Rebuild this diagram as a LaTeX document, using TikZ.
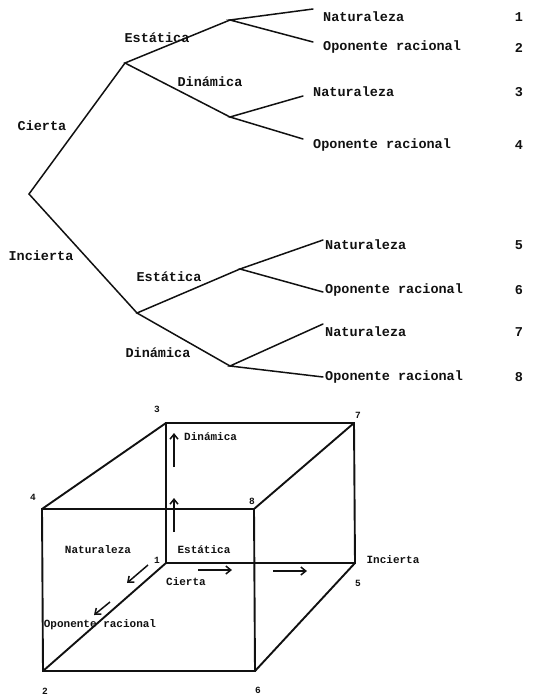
\documentclass[tikz,border=0pt]{standalone}
\usepackage{fontspec}
\setmonofont{Liberation Mono}
\usetikzlibrary{arrows.meta}
\definecolor{Ink}{HTML}{111111}

\begin{document}
\begin{tikzpicture}[x=1pt,y=-1pt,
  branch/.style={Ink,line width=1.5pt,line cap=round},
  edge/.style={Ink,line width=1.9pt,line join=miter},
  move/.style={-{Straight Barb[length=5pt,width=8pt]},Ink,line width=1.5pt},
  treetext/.style={font=\ttfamily\bfseries\fontsize{13.5}{14}\selectfont,text=Ink,inner sep=0pt},
  cubetext/.style={font=\ttfamily\bfseries\fontsize{11}{12}\selectfont,text=Ink,inner sep=0pt},
  corner/.style={font=\ttfamily\bfseries\fontsize{9.5}{10}\selectfont,text=Ink,inner sep=0pt}]
\useasboundingbox (0,0) rectangle (553,696);
% decision tree
\coordinate (root) at (29,194);
\coordinate (cie) at (125,63);
\coordinate (cieEst) at (230,20);
\coordinate (cieDin) at (230,117);
\coordinate (inc) at (137,313);
\coordinate (incEst) at (240,269);
\coordinate (incDin) at (230,366);
\coordinate (end1) at (313,9);
\coordinate (end2) at (313,42);
\coordinate (end3) at (303,96);
\coordinate (end4) at (303,139);
\coordinate (end5) at (323,240);
\coordinate (end6) at (323,292);
\coordinate (end7) at (323,324);
\coordinate (end8) at (323,377);
\draw[branch] (cie) -- (root) -- (inc);
\draw[branch] (cieEst) -- (cie) -- (cieDin);
\draw[branch] (incEst) -- (inc) -- (incDin);
\draw[branch] (end1) -- (cieEst) -- (end2);
\draw[branch] (end3) -- (cieDin) -- (end4);
\draw[branch] (end5) -- (incEst) -- (end6);
\draw[branch] (end7) -- (incDin) -- (end8);
\node[treetext] (tCie) at (42,126) {Cierta};
\node[treetext] (tInc) at (41,256) {Incierta};
\node[treetext] (tCieEst) at (157,38) {Estática};
\node[treetext] (tCieDin) at (210,82) {Dinámica};
\node[treetext] (tIncEst) at (169,277) {Estática};
\node[treetext] (tIncDin) at (158,353) {Dinámica};
\node[treetext,anchor=west] (leaf1) at (323,17) {Naturaleza};
\node[treetext,anchor=west] (leaf2) at (323,47) {Oponente racional};
\node[treetext,anchor=west] (leaf3) at (313,92) {Naturaleza};
\node[treetext,anchor=west] (leaf4) at (313,145) {Oponente racional};
\node[treetext,anchor=west] (leaf5) at (325,245) {Naturaleza};
\node[treetext,anchor=west] (leaf6) at (325,290) {Oponente racional};
\node[treetext,anchor=west] (leaf7) at (325,332) {Naturaleza};
\node[treetext,anchor=west] (leaf8) at (325,377) {Oponente racional};
\foreach \k/\yy in {1/17,2/48,3/92,4/145,5/245,6/290,7/332,8/377}
  \node[treetext] (num\k) at (519,\yy) {\k};
% cube
\coordinate (v1) at (166,563);
\coordinate (v2) at (43,671);
\coordinate (v3) at (166,423);
\coordinate (v4) at (42,509);
\coordinate (v5) at (355,563);
\coordinate (v6) at (255,671);
\coordinate (v7) at (354,423);
\coordinate (v8) at (254,509);
\draw[edge] (v3) -- (v7) -- (v5) -- (v1) -- cycle;
\draw[edge] (v4) -- (v8) -- (v6) -- (v2) -- cycle;
\draw[edge] (v4) -- (v3);
\draw[edge] (v8) -- (v7);
\draw[edge] (v6) -- (v5);
\draw[edge] (v2) -- (v1);
\node[corner] (c1) at (157,560) {1};
\node[corner] (c2) at (45,691) {2};
\node[corner] (c3) at (157,409) {3};
\node[corner] (c4) at (33,497) {4};
\node[corner] (c5) at (358,583) {5};
\node[corner] (c6) at (258,690) {6};
\node[corner] (c7) at (358,415) {7};
\node[corner] (c8) at (252,501) {8};
\coordinate (upA) at (174,467);
\coordinate (upB) at (174,433);
\coordinate (upC) at (174,532);
\coordinate (upD) at (174,498);
\coordinate (fwA) at (198,570);
\coordinate (fwB) at (232,570);
\coordinate (fwC) at (273,571);
\coordinate (fwD) at (307,571);
\coordinate (bkA) at (148,565);
\coordinate (bkB) at (127,583);
\coordinate (bkC) at (110,602);
\coordinate (bkD) at (94,615);
\draw[move] (upA) -- (upB);
\draw[move] (upC) -- (upD);
\draw[move] (fwA) -- (fwB);
\draw[move] (fwC) -- (fwD);
\draw[move] (bkA) -- (bkB);
\draw[move] (bkC) -- (bkD);
\node[cubetext,anchor=west] (cDin) at (184,437) {Dinámica};
\node[cubetext] (cEst) at (204,550) {Estática};
\node[cubetext] (cNat) at (98,550) {Naturaleza};
\node[cubetext] (cCie) at (186,582) {Cierta};
\node[cubetext] (cOpo) at (100,625) {Oponente racional};
\node[cubetext] (cInc) at (393,560) {Incierta};
\end{tikzpicture}
\end{document}
